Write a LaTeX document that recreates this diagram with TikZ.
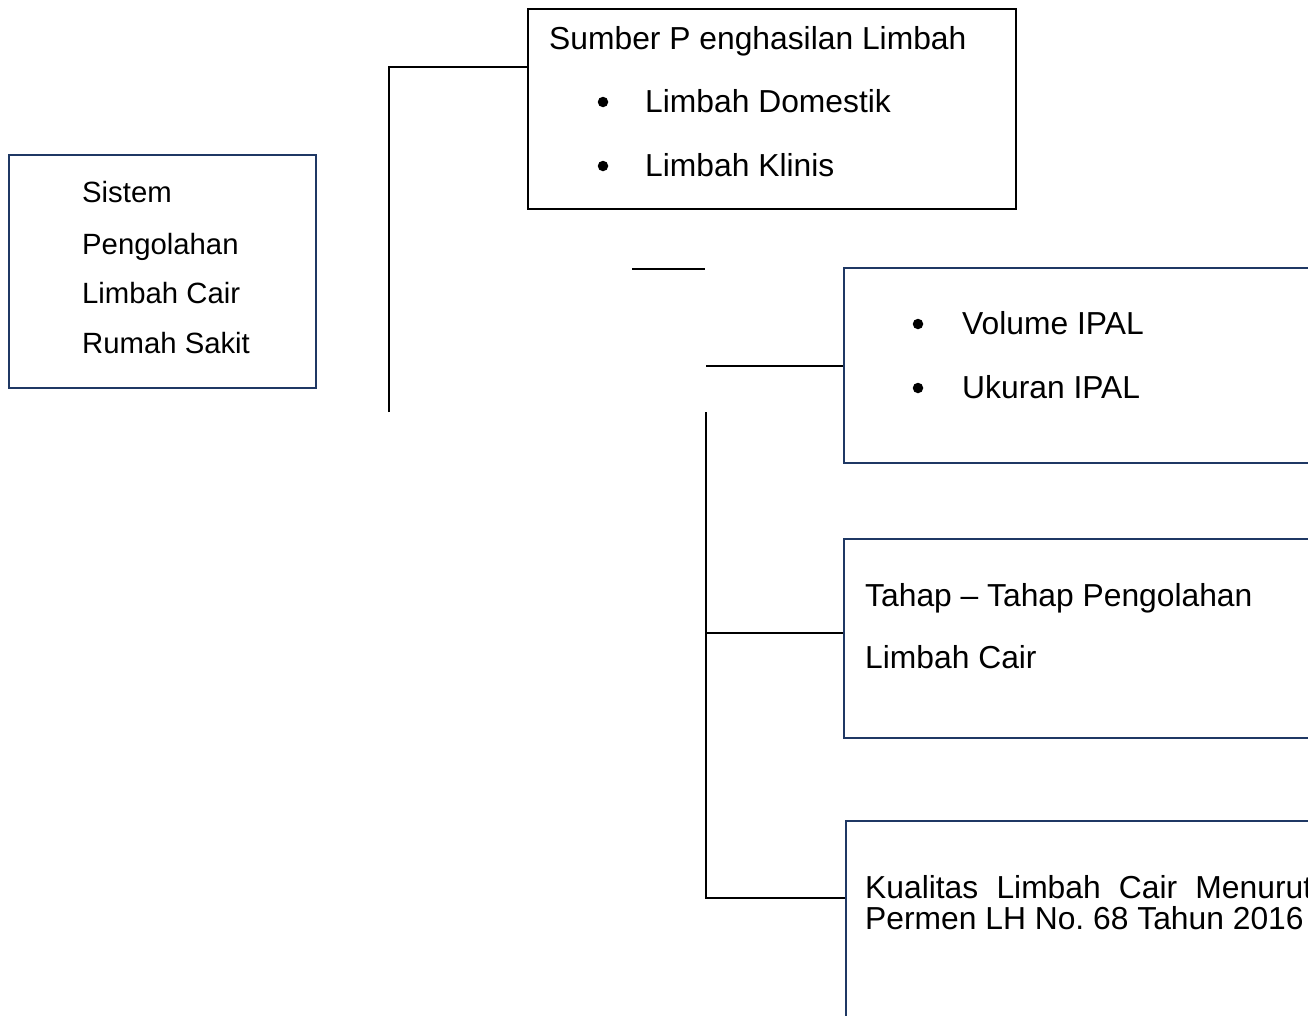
\documentclass[tikz,border=0pt]{standalone}
\usepackage{fontspec}
\setmainfont{Liberation Sans}
\definecolor{navy}{RGB}{31,56,100}
\tikzset{
  boxbase/.style={rectangle, inner sep=0pt, anchor=north west, line width=2pt},
  navybox/.style={boxbase, draw=navy, line width=2.3pt},
  blackbox/.style={boxbase, draw=black},
  conn/.style={draw=black, line width=1.3pt},
  txt/.style={anchor=base west, inner sep=0pt, font=\fontsize{31.8}{38}\selectfont},
  txtsm/.style={anchor=base west, inner sep=0pt, font=\fontsize{29.3}{35}\selectfont},
  bul/.style={circle, fill=black, inner sep=0pt, minimum size=10.5pt}
}
\begin{document}
\frenchspacing
\begin{tikzpicture}[x=1pt,y=-1pt]
\clip (0,0) rectangle (1308,1015);
\fill[white] (0,0) rectangle (1308,1015);
% boxes
\node[navybox, minimum width=307pt, minimum height=233pt] (sys) at (8,154) {};
\node[blackbox, minimum width=488pt, minimum height=200pt] (src) at (527,8) {};
\node[navybox, minimum width=500pt, minimum height=195pt] (vol) at (843,267) {};
\node[navybox, minimum width=500pt, minimum height=199pt] (tah) at (843,538) {};
\node[navybox, minimum width=500pt, minimum height=240pt] (kual) at (845,820) {};
% texts: left box
\node[txtsm] (s1) at (82,202) {Sistem};
\node[txtsm] (s2) at (82,254) {Pengolahan};
\node[txtsm] (s3) at (82,303) {Limbah Cair};
\node[txtsm] (s4) at (82,353) {Rumah Sakit};
% top box
\node[txt] (t0) at (549,49) {Sumber P enghasilan Limbah};
\node[bul] (b1) at (603,102) {};
\node[txt] (t1) at (645,112) {Limbah Domestik};
\node[bul] (b2) at (603,166) {};
\node[txt] (t2) at (645,176) {Limbah Klinis};
% volume box
\node[bul] (b3) at (918,324) {};
\node[txt] (v1) at (962,334) {Volume IPAL};
\node[bul] (b4) at (918,388) {};
\node[txt] (v2) at (962,398) {Ukuran IPAL};
% tahap box
\node[txt] (h1) at (865,606) {Tahap – Tahap Pengolahan};
\node[txt] (h2) at (865,668) {Limbah Cair};
% kualitas box
\node[txt] (k1) at (865,898) {\makebox[447pt][s]{Kualitas Limbah Cair Menurut}};
\node[txt] (k2) at (865,929) {Permen LH No. 68 Tahun 2016};
% connectors
\coordinate (c1) at (389,412);
\coordinate (c2) at (632,269);
\coordinate (c3) at (705,269);
\coordinate (c4) at (706,366);
\coordinate (c5) at (706,412);
\draw[conn] (c1) |- ([yshift=-59pt]src.north west);
\draw[conn] (c2) -- (c3);
\draw[conn] (c4) -- (c4 -| vol.west);
\draw[conn] (c5) |- ([yshift=-78pt]kual.north west);
\draw[conn] (706,633) -- ([yshift=-95pt]tah.north west);
\end{tikzpicture}
\end{document}
